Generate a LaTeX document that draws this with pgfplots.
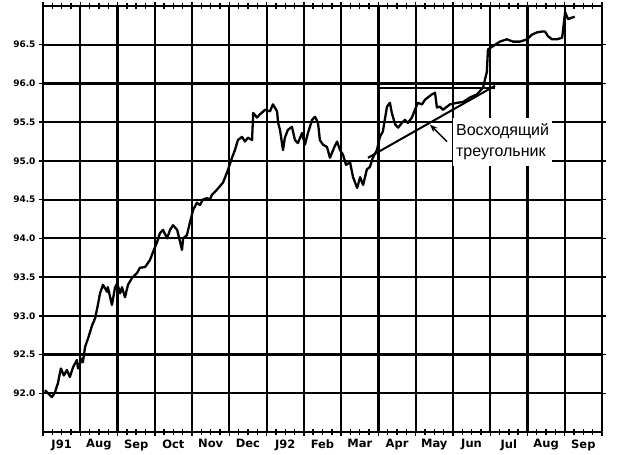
\documentclass[border=0pt]{standalone}
\usepackage{pgfplots}
\pgfplotsset{compat=1.18}
\usetikzlibrary{arrows.meta}
\usepackage{fontspec}
\setmainfont{Liberation Sans}
\newfontfamily\dejavu{DejaVu Sans}
\begin{document}
\begin{tikzpicture}
\begin{axis}[name=ax, scale only axis, width=559pt, height=426pt,
 xmin=0, xmax=15, ymin=91.5, ymax=97,
 xtick={0,1,2,3,4,5,6,7,8,9,10,11,12,13,14,15},
 x tick label as interval,
 xticklabels={J91,Aug,Sep,Oct,Nov,Dec,J92,Feb,Mar,Apr,May,Jun,Jul,Aug,Sep},
 minor x tick num=3,
 ytick={92,92.5,93,93.5,94,94.5,95,95.5,96,96.5},
 grid=major, major grid style={black, line width=2.2pt},
 axis line style={line width=2.6pt},
 tick align=center, major tick length=8pt, minor tick length=6pt,
 tick style={black, line width=1.4pt},
 x tick label style={font=\dejavu\bfseries\fontsize{11.5}{11.5}\selectfont},
 y tick label style={font=\dejavu\bfseries\fontsize{9}{9}\selectfont,
   /pgf/number format/.cd, fixed, fixed zerofill, precision=1},
 /pgf/number format/assume math mode=true,
]
\addplot[black, line width=2.3pt, line join=round] coordinates {
(0.05,92.04) (0.24,91.95) (0.32,92.01) (0.40,92.13) (0.48,92.32) (0.56,92.23)
(0.64,92.30) (0.72,92.21) (0.81,92.34) (0.91,92.43) (0.94,92.32) (1.05,92.45)
(1.07,92.40) (1.13,92.60) (1.21,92.71) (1.32,92.88) (1.40,92.97) (1.48,93.16)
(1.53,93.29) (1.61,93.40) (1.72,93.31) (1.74,93.37) (1.85,93.14) (1.93,93.36)
(1.99,93.42) (2.07,93.29) (2.12,93.37) (2.20,93.24) (2.28,93.40) (2.39,93.49)
(2.52,93.55) (2.60,93.62) (2.74,93.63) (2.87,93.72) (2.95,93.82) (3.06,93.95)
(3.14,94.07) (3.22,94.11) (3.33,94.00) (3.41,94.11) (3.49,94.17) (3.60,94.11)
(3.68,93.95) (3.73,93.85) (3.76,94.00) (3.86,94.04) (3.94,94.20) (4.03,94.37)
(4.13,94.46) (4.21,94.43) (4.29,94.50) (4.40,94.52) (4.48,94.50) (4.53,94.56)
(4.67,94.63) (4.83,94.72) (4.88,94.78) (4.96,94.88) (5.07,95.04) (5.15,95.14)
(5.23,95.27) (5.34,95.31) (5.42,95.25) (5.50,95.30) (5.61,95.27) (5.64,95.62)
(5.74,95.56) (5.82,95.60) (5.96,95.66) (6.09,95.64) (6.17,95.73) (6.28,95.64)
(6.31,95.49) (6.36,95.40) (6.44,95.14) (6.49,95.30) (6.57,95.40) (6.68,95.44)
(6.76,95.27) (6.84,95.23) (6.95,95.36) (7.03,95.21) (7.11,95.36) (7.22,95.53)
(7.30,95.57) (7.38,95.49) (7.43,95.27) (7.51,95.21) (7.62,95.18) (7.70,95.04)
(7.81,95.17) (7.89,95.25) (7.97,95.14) (8.05,95.08) (8.13,94.95) (8.24,94.98)
(8.32,94.79) (8.43,94.65) (8.51,94.79) (8.59,94.69) (8.69,94.89) (8.77,94.92)
(8.85,95.04) (8.96,95.14) (9.04,95.31) (9.12,95.38) (9.23,95.70) (9.31,95.75)
(9.36,95.62) (9.45,95.47) (9.53,95.43) (9.63,95.49) (9.71,95.53) (9.79,95.49)
(9.90,95.56) (9.98,95.66) (10.06,95.75) (10.17,95.73) (10.25,95.79) (10.33,95.82)
(10.44,95.86) (10.52,95.88) (10.57,95.69) (10.65,95.70) (10.73,95.66) (10.84,95.70)
(10.92,95.73) (11.11,95.75) (11.27,95.76) (11.46,95.82) (11.65,95.86) (11.81,95.95)
(11.86,96.05) (11.91,96.15) (11.94,96.44) (12.07,96.48) (12.26,96.54) (12.45,96.57)
(12.61,96.54) (12.80,96.54) (12.99,96.57) (13.12,96.63) (13.26,96.66) (13.39,96.67)
(13.47,96.67) (13.55,96.61) (13.66,96.57) (13.79,96.57) (13.93,96.59) (13.95,96.67)
(14.01,96.92) (14.09,96.83) (14.19,96.85) (14.27,96.86)
};
\addplot[black, line width=2pt] coordinates {(8.96,95.94) (12.13,95.94)};
\addplot[black, line width=2pt] coordinates {(8.72,95.04) (12.13,95.97)};
\node[anchor=north west, fill=white, inner xsep=3pt, inner ysep=6pt, align=left,
  font=\fontsize{16}{21}\selectfont] at (axis cs:11.0,95.56) {Восходящий\\треугольник};
\draw[-{Stealth[length=8pt,width=6pt]}, line width=1.5pt] (axis cs:10.84,95.25) -- (axis cs:10.38,95.47);
\end{axis}
\path ([xshift=-43pt,yshift=-23pt]ax.south west) rectangle ([xshift=17pt,yshift=6pt]ax.north east);
\end{tikzpicture}
\end{document}
